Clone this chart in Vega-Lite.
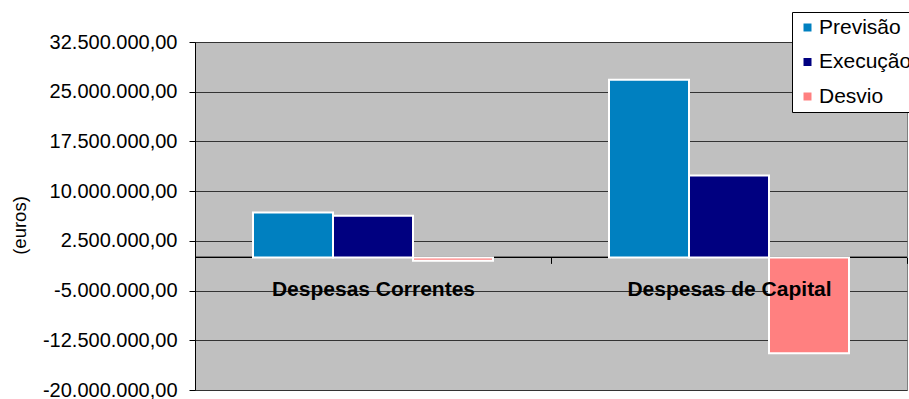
{
  "$schema": "https://vega.github.io/schema/vega-lite/v6.json",
  "width": 712,
  "height": 348,
  "autosize": {"type": "none"},
  "padding": {"left": 195, "top": 42, "right": 2, "bottom": 9},
  "background": "white",
  "data": {
    "values": [
      {"categoria": "Despesas Correntes", "serie": "Previsão", "valor": 6790000},
      {"categoria": "Despesas Correntes", "serie": "Execução", "valor": 6290000},
      {"categoria": "Despesas Correntes", "serie": "Desvio", "valor": -500000},
      {"categoria": "Despesas de Capital", "serie": "Previsão", "valor": 26800000},
      {"categoria": "Despesas de Capital", "serie": "Execução", "valor": 12350000},
      {"categoria": "Despesas de Capital", "serie": "Desvio", "valor": -14450000}
    ]
  },
  "layer": [
    {
      "mark": {"type": "rule", "color": "#000000", "strokeWidth": 1},
      "encoding": {"y": {"datum": 0, "type": "quantitative"}}
    },
    {
      "mark": {"type": "bar", "stroke": "#ffffff", "strokeWidth": 2},
      "encoding": {
        "x": {
          "field": "categoria",
          "type": "nominal",
          "sort": null,
          "scale": {"paddingInner": 0, "paddingOuter": 0},
          "axis": {
            "title": null,
            "orient": "bottom",
            "offset": -132.6,
            "domain": false,
            "grid": false,
            "tickBand": "extent",
            "tickSize": 6,
            "tickColor": "#000000",
            "labelAngle": 0,
            "labelFont": "Liberation Sans",
            "labelFontSize": 21,
            "labelFontWeight": "bold",
            "labelColor": "#000000",
            "labelBaseline": "alphabetic",
            "labelPadding": 32,
            "labelLimit": 0,
            "zindex": 1
          }
        },
        "xOffset": {
          "field": "serie",
          "type": "nominal",
          "sort": ["Previsão", "Execução", "Desvio"],
          "scale": {"paddingInner": 0, "paddingOuter": 0.725}
        },
        "y": {
          "field": "valor",
          "type": "quantitative",
          "scale": {"domain": [-20000000, 32500000], "nice": false, "zero": false},
          "axis": {
            "title": "(euros)",
            "titleFont": "Liberation Sans",
            "titleFontSize": 18.5,
            "titleFontWeight": "normal",
            "titleColor": "#000000",
            "titleAngle": 270,
            "titleBaseline": "middle",
            "titleX": -176,
            "titleY": 183,
            "values": [-20000000, -12500000, -5000000, 2500000, 10000000, 17500000, 25000000, 32500000],
            "format": ",.2f",
            "labelFont": "Liberation Sans",
            "labelFontSize": 20,
            "labelColor": "#000000",
            "labelPadding": 12,
            "labelLimit": 0,
            "tickSize": 6,
            "tickColor": "#000000",
            "domainColor": "#000000",
            "grid": true,
            "gridColor": "#333333",
            "gridWidth": 1,
            "zindex": 0
          }
        },
        "color": {
          "field": "serie",
          "type": "nominal",
          "sort": ["Previsão", "Execução", "Desvio"],
          "scale": {
            "domain": ["Previsão", "Execução", "Desvio"],
            "range": ["#0080c0", "#000080", "#ff8080"]
          },
          "legend": {
            "title": null,
            "orient": "none",
            "legendX": 597,
            "legendY": -30,
            "padding": 5,
            "strokeColor": "#000000",
            "fillColor": "#ffffff",
            "symbolType": "square",
            "symbolSize": 64,
            "symbolStrokeWidth": 0,
            "labelFont": "Liberation Sans",
            "labelFontSize": 21,
            "labelColor": "#000000",
            "labelOffset": 1,
            "labelLimit": 0,
            "rowPadding": 12.5
          }
        }
      }
    }
  ],
  "config": {
    "locale": {
      "number": {
        "decimal": ",",
        "thousands": ".",
        "grouping": [3],
        "currency": ["", " €"],
        "minus": "-"
      }
    },
    "view": {"fill": "#c0c0c0", "stroke": "#808080", "strokeWidth": 1}
  }
}
